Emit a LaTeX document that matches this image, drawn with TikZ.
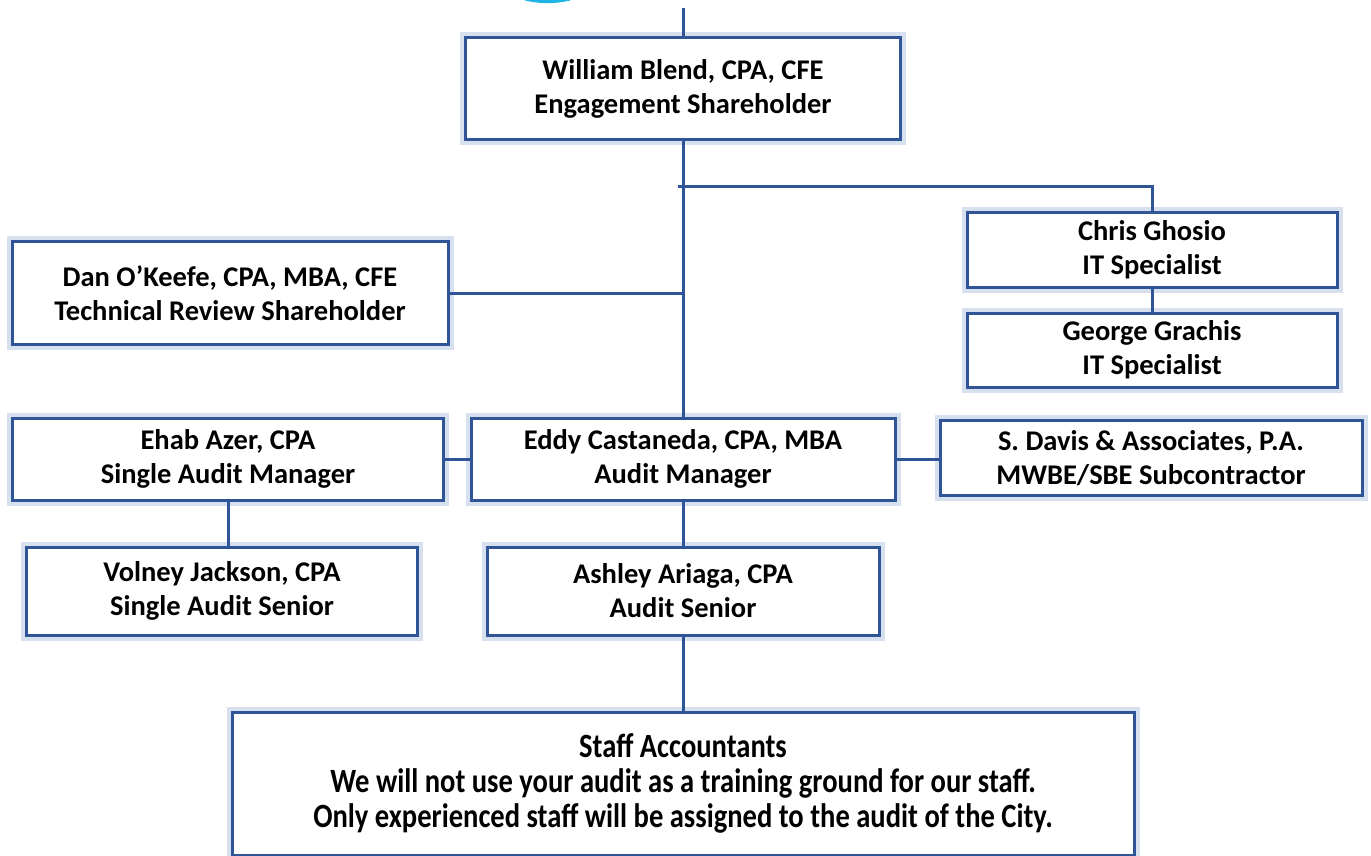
\documentclass[tikz,border=0pt]{standalone}
\usepackage{fontspec}
\setmainfont{Carlito}
\newfontfamily\narrowfont[FakeStretch=0.84]{Carlito}

\definecolor{linkblue}{RGB}{47,85,151}
\definecolor{glowblue}{RGB}{188,204,228}
\definecolor{logocyan}{RGB}{30,180,230}

\tikzset{
    person/.style={draw=linkblue,line width=3pt,fill=white,align=center,inner sep=0pt,
        font=\bfseries\fontsize{28.5}{34}\selectfont,
        preaction={draw=glowblue,line width=11pt,opacity=0.6}},
    link/.style={draw=linkblue,line width=3pt}
}

\begin{document}
\begin{tikzpicture}[x=1pt,y=-1pt]
    \useasboundingbox (0,0) rectangle (1371,856);
    \draw[logocyan,line width=3pt] (525,-1) to[bend right=12] (570,-1);

    \node[person,minimum width=435,minimum height=102] (william) at (683,89) {William Blend, CPA, CFE\\Engagement Shareholder};
    \node[person,minimum width=436,minimum height=103] (dan) at (230,293) {Dan O'Keefe, CPA, MBA, CFE\\Technical Review Shareholder};
    \node[person,minimum width=370,minimum height=75] (chris) at (1152,250) {Chris Ghosio\\IT Specialist};
    \node[person,minimum width=370,minimum height=74] (george) at (1152,350) {George Grachis\\IT Specialist};
    \node[person,minimum width=431,minimum height=82] (ehab) at (228,459) {Ehab Azer, CPA\\Single Audit Manager};
    \node[person,minimum width=424,minimum height=82] (eddy) at (683,459) {Eddy Castaneda, CPA, MBA\\Audit Manager};
    \node[person,minimum width=422,minimum height=75] (davis) at (1151,458) {S. Davis \& Associates, P.A.\\MWBE/SBE Subcontractor};
    \node[person,minimum width=391,minimum height=88] (volney) at (222,591) {Volney Jackson, CPA\\Single Audit Senior};
    \node[person,minimum width=392,minimum height=88] (ashley) at (683,591) {Ashley Ariaga, CPA\\Audit Senior};
    \node[person,minimum width=902,minimum height=143,font=\narrowfont\bfseries\fontsize{34}{35}\selectfont] (staff) at (683,783.5)
        {Staff Accountants\\We will not use your audit as a  training ground for our staff.\\Only experienced staff will be assigned to the audit of  the City.};

    \coordinate (top) at (683,8);
    \coordinate (split) at (678,186);
    \draw[link] (top) -- (william.north);
    \draw[link] (william.south) -- (eddy.north);
    \draw[link] (split) -- (split -| chris.north) -- (chris.north);
    \draw[link] (dan.east) -- (dan.east -| william.south);
    \draw[link] (chris.south) -- (george.north);
    \draw[link] (ehab.east) -- (eddy.west);
    \draw[link] (eddy.east) -- (eddy.east -| davis.west);
    \draw[link] (ehab.south) -- (ehab.south |- volney.north);
    \draw[link] (eddy.south) -- (ashley.north);
    \draw[link] (ashley.south) -- (staff.north);
\end{tikzpicture}
\end{document}
